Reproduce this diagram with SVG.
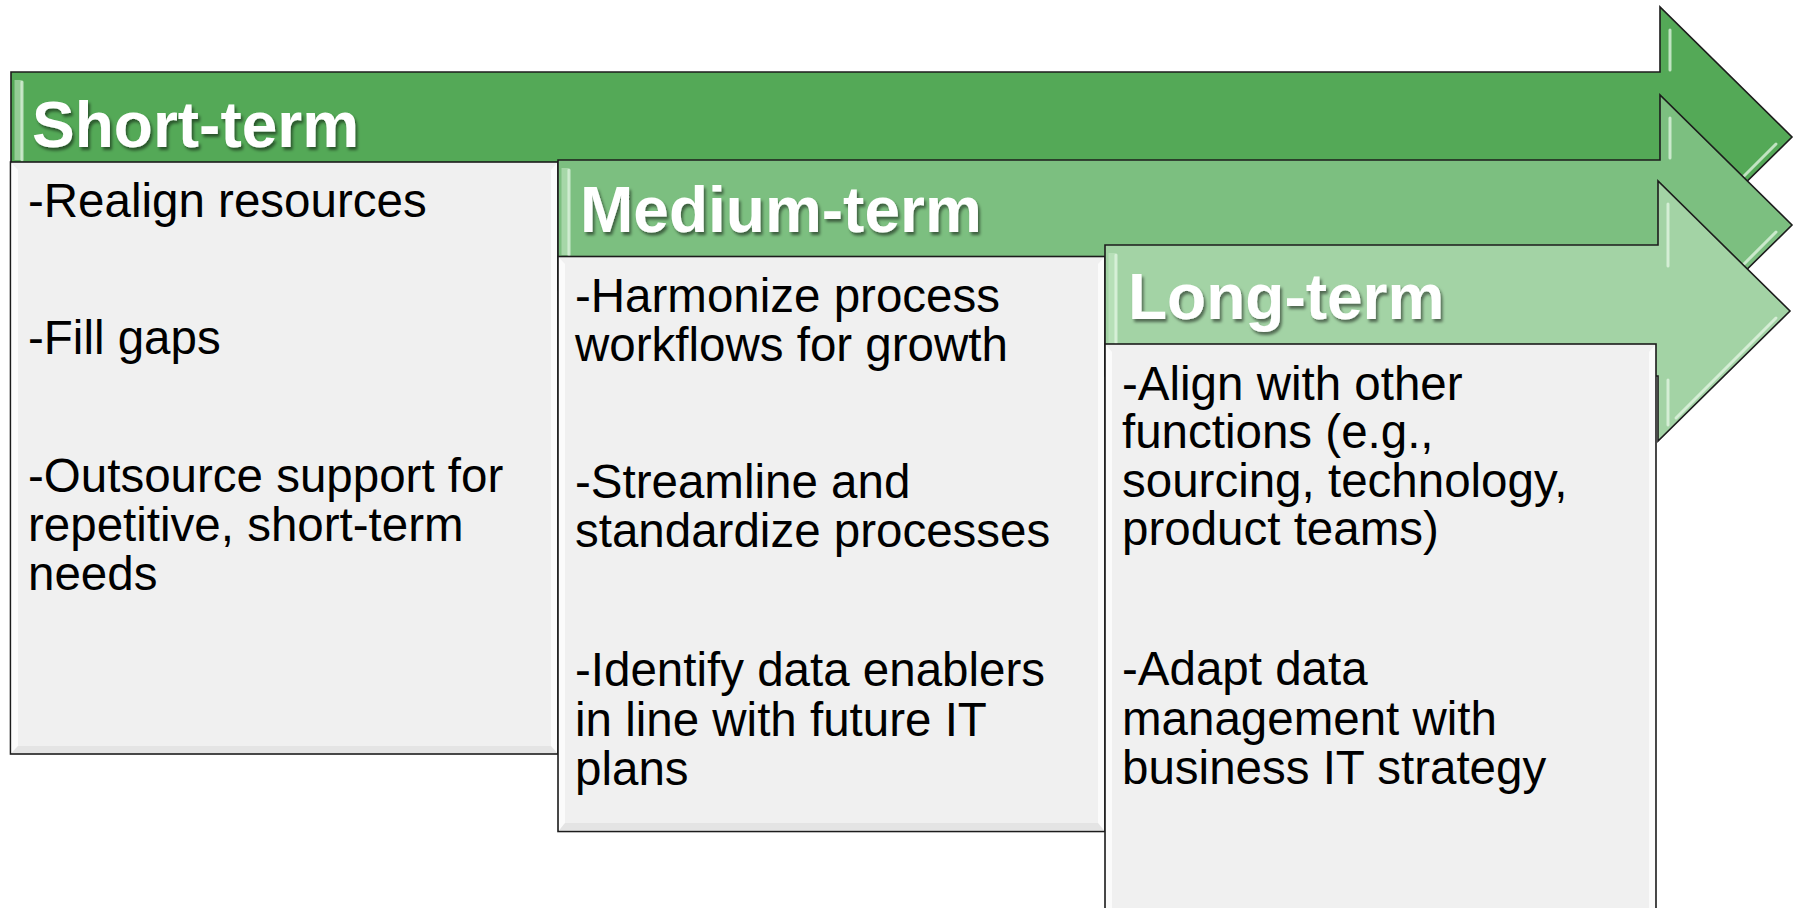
<svg xmlns="http://www.w3.org/2000/svg" width="1798" height="908" viewBox="0 0 1798 908">
<defs>
<style>
.arrow{stroke:#1c1c1c;stroke-width:1.6;stroke-linejoin:miter}
.a1{fill:#54A957}
.a2{fill:#7CBF80}
.a3{fill:#A3D3A5}
.hl{fill:none;stroke:#E6F7E6;stroke-width:3;stroke-opacity:0.75;stroke-linecap:round}
.hl2{fill:none;stroke:#C8EBC9;stroke-width:7;stroke-opacity:0.55}
.body{fill:#F0F0F0;stroke:#1c1c1c;stroke-width:1.6}
.bev{fill:#FBFBFB}
.bevd{fill:#DCDCDC}
.head{font-family:"Liberation Sans",Arial,sans-serif;font-weight:bold;font-size:64px;fill:#FFFFFF}
.txt{font-family:"Liberation Sans",Arial,sans-serif;font-size:47.5px;fill:#000000}
</style>
<filter id="sh" x="-5%" y="-20%" width="110%" height="150%">
<feDropShadow dx="2" dy="3" stdDeviation="1.6" flood-color="#000" flood-opacity="0.5"/>
</filter>
</defs>

<g id="short-term-arrow">
<path class="arrow a1" d="M11,72 H1660 V7 L1792,137 L1660,267 V202 H11 Z"/>
<path class="hl2" d="M18,80 V160"/>
<path class="hl" d="M22,82 V160"/>
<path class="hl" d="M1670,30 V70"/>
<path class="hl" d="M1776,144 L1742,178"/>
<text class="head" x="32" y="147" filter="url(#sh)">Short-term</text>
</g>

<g id="short-term-body">
<rect class="body" x="10.5" y="162" width="547.5" height="592"/>
<path class="bev" d="M11.5,163 L18,170 V746 L11.5,753 Z"/>
<path class="bev" d="M557,163 L551,170 V746 L557,753 Z"/>
<path class="bevd" d="M11.5,753 L18,746 H551 L557,753 Z" opacity="0.6"/>
<text class="txt" x="28" y="217">-Realign resources</text>
<text class="txt" x="28" y="354">-Fill gaps</text>
<text class="txt" x="28" y="492">-Outsource support for</text>
<text class="txt" x="28" y="541">repetitive, short-term</text>
<text class="txt" x="28" y="590">needs</text>
</g>

<g id="medium-term-arrow">
<path class="arrow a2" d="M558,160 H1660 V95 L1792,225 L1660,355 V290 H558 Z"/>
<path class="hl2" d="M565,168 V255"/>
<path class="hl" d="M569,170 V255"/>
<path class="hl" d="M1670,118 V158"/>
<path class="hl" d="M1776,232 L1742,266"/>
<text class="head" x="580" y="232" filter="url(#sh)">Medium-term</text>
</g>

<g id="medium-term-body">
<rect class="body" x="558" y="256.5" width="547" height="575"/>
<path class="bev" d="M559,257.5 L565,264 V823 L559,830.5 Z"/>
<path class="bev" d="M1104,257.5 L1098,264 V823 L1104,830.5 Z"/>
<path class="bevd" d="M559,830.5 L565,823 H1098 L1104,830.5 Z" opacity="0.6"/>
<text class="txt" x="575" y="312">-Harmonize process</text>
<text class="txt" x="575" y="361">workflows for growth</text>
<text class="txt" x="575" y="498">-Streamline and</text>
<text class="txt" x="575" y="547">standardize processes</text>
<text class="txt" x="575" y="686">-Identify data enablers</text>
<text class="txt" x="575" y="736">in line with future IT</text>
<text class="txt" x="575" y="785">plans</text>
</g>

<g id="long-term-arrow">
<path class="arrow a3" d="M1105,245 H1658 V181 L1790,311 L1658,441 V376 H1105 Z"/>
<path class="hl2" d="M1112,253 V343"/>
<path class="hl" d="M1116,255 V343"/>
<path class="hl" d="M1668,204 V266"/>
<path class="hl" d="M1668,380 V425"/>
<path class="hl" d="M1776,318 L1676,418"/>
<text class="head" x="1128" y="319" filter="url(#sh)">Long-term</text>
</g>

<g id="long-term-body">
<rect class="body" x="1105" y="344" width="551" height="580"/>
<path class="bev" d="M1106,345 L1112,352 V908 H1106 Z"/>
<path class="bev" d="M1655,345 L1649,352 V908 H1655 Z"/>
<text class="txt" x="1122" y="400">-Align with other</text>
<text class="txt" x="1122" y="448">functions (e.g.,</text>
<text class="txt" x="1122" y="497">sourcing, technology,</text>
<text class="txt" x="1122" y="545">product teams)</text>
<text class="txt" x="1122" y="685">-Adapt data</text>
<text class="txt" x="1122" y="735">management with</text>
<text class="txt" x="1122" y="784">business IT strategy</text>
</g>

<g id="connectors"></g>
</svg>
